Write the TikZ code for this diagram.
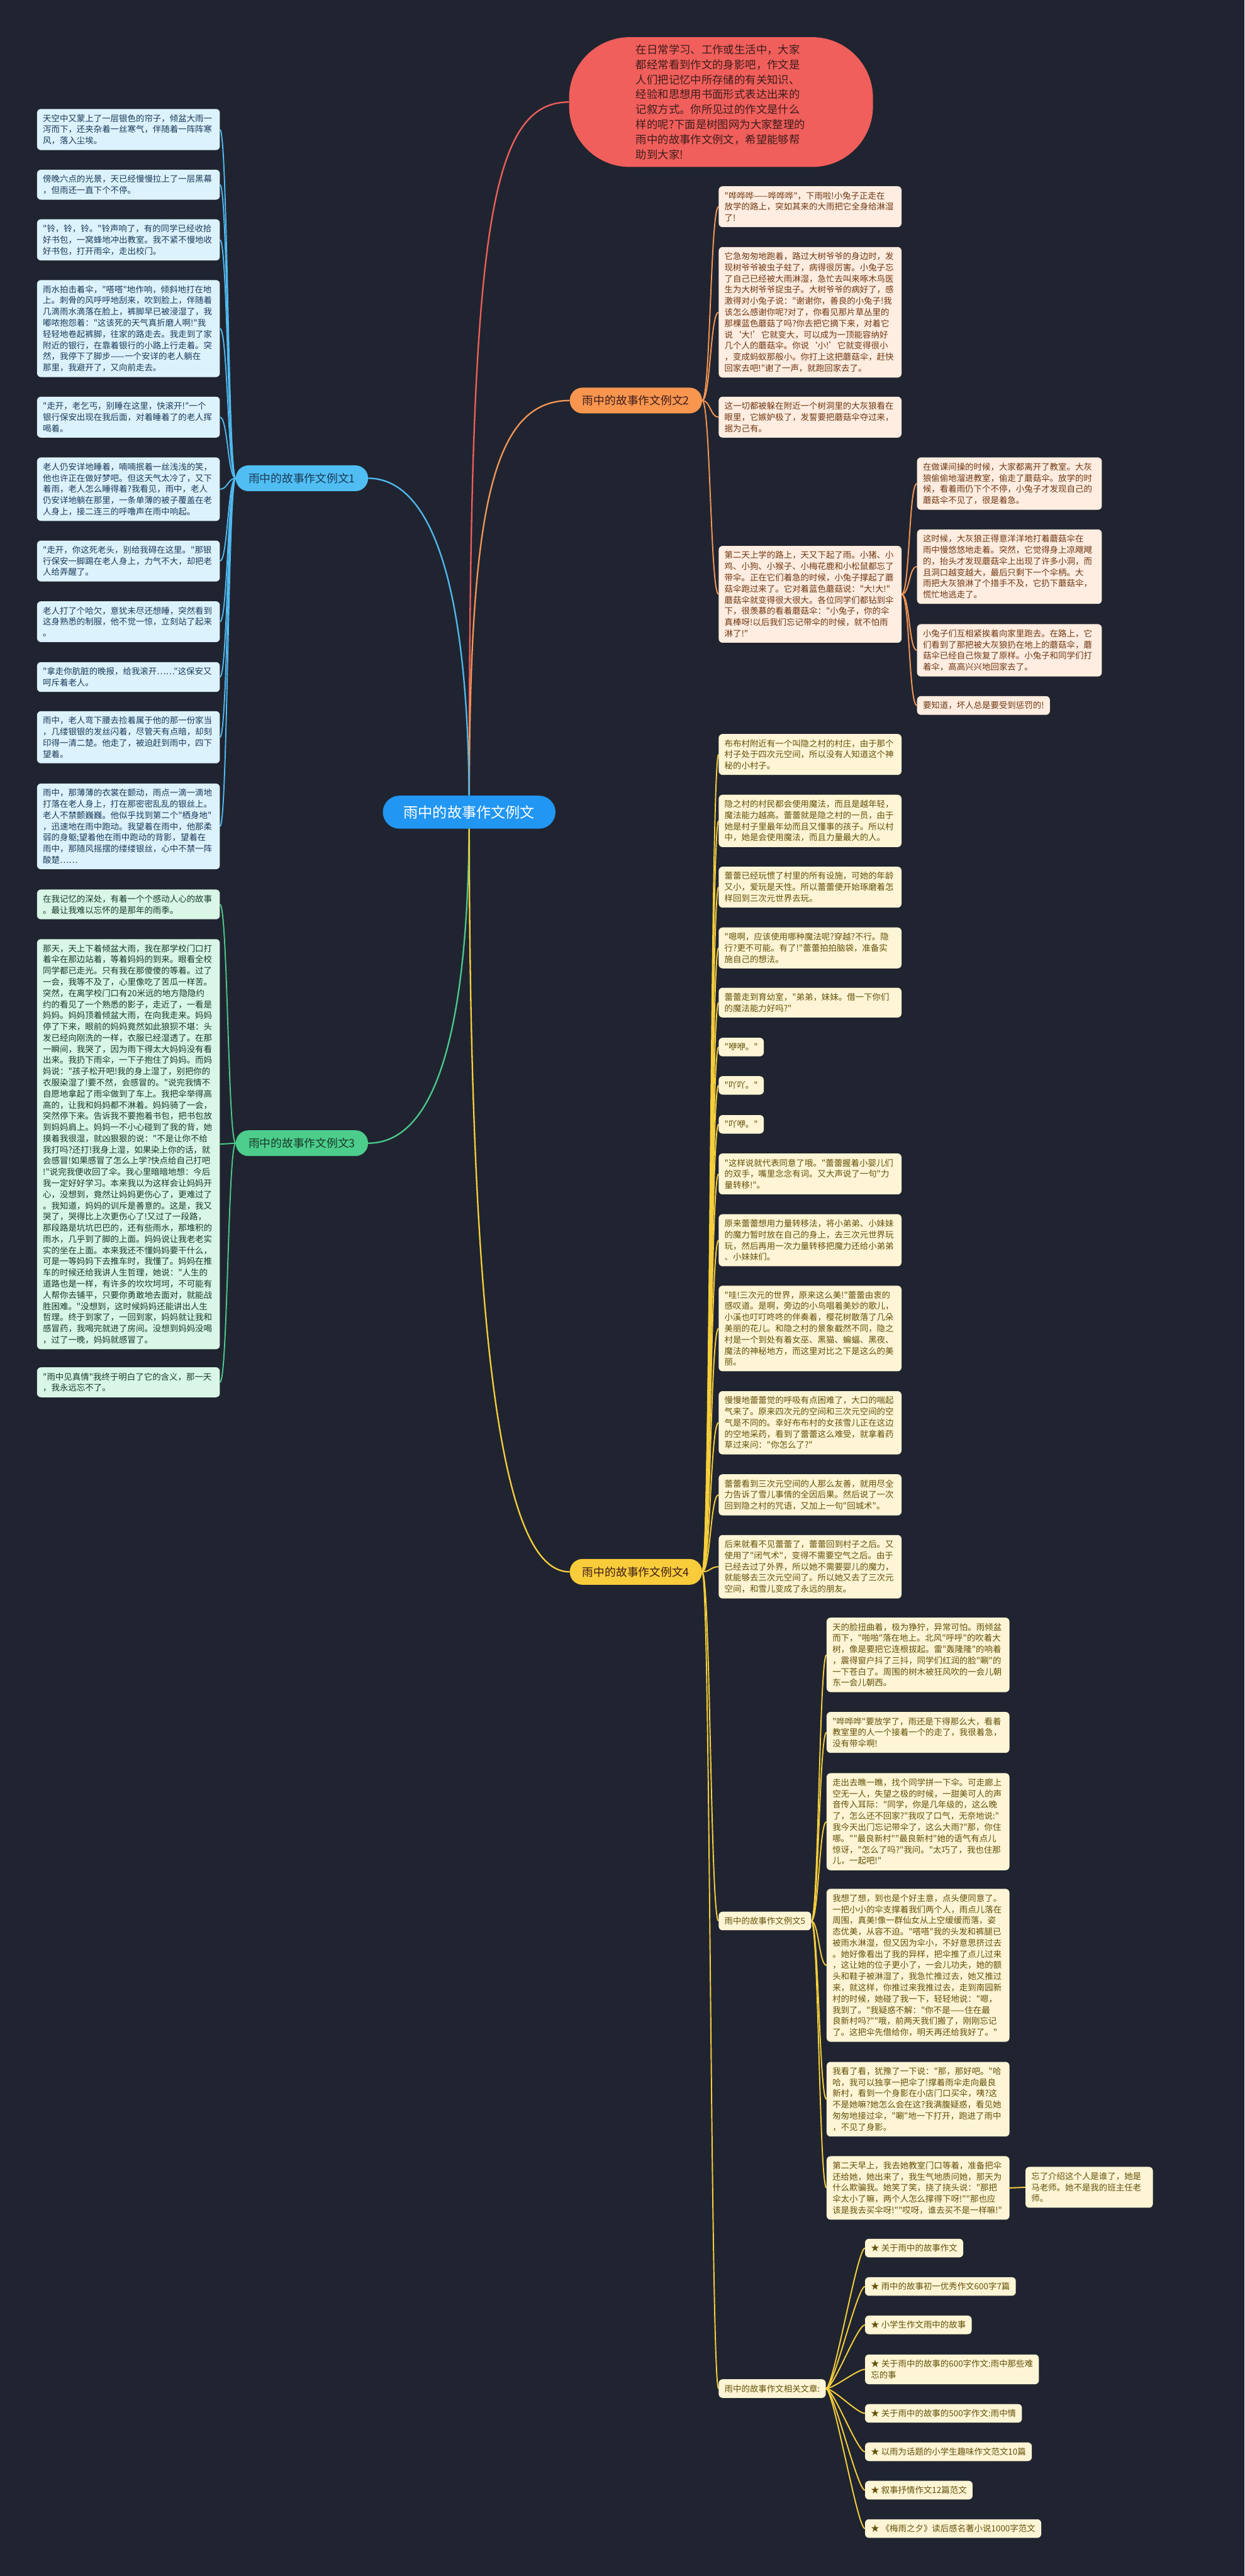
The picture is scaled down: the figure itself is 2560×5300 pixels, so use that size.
\documentclass[tikz,border=0pt]{standalone}
\usepackage{fontspec}
\newfontfamily\cjk{Noto Sans CJK SC}
\definecolor{bgc}{RGB}{32,36,48}
\definecolor{ired}{RGB}{240,95,91}
\definecolor{introtext}{RGB}{62,28,28}
\definecolor{cblue}{RGB}{33,150,243}
\definecolor{pblue}{RGB}{80,190,242}
\definecolor{pgreen}{RGB}{76,205,140}
\definecolor{porange}{RGB}{248,150,79}
\definecolor{pyellow}{RGB}{248,204,58}
\definecolor{lblue}{RGB}{80,185,240}
\definecolor{lgreen}{RGB}{76,200,140}
\definecolor{lorange}{RGB}{245,150,85}
\definecolor{lyellow}{RGB}{246,206,60}
\definecolor{fblue}{RGB}{220,243,253}
\definecolor{tblue}{RGB}{28,58,88}
\definecolor{fgreen}{RGB}{217,246,231}
\definecolor{tgreen}{RGB}{24,58,40}
\definecolor{forange}{RGB}{254,237,224}
\definecolor{torange}{RGB}{110,55,20}
\definecolor{fyellow}{RGB}{253,245,213}
\definecolor{tyellow}{RGB}{100,80,10}
\pgfdeclarelayer{back}
\pgfdeclarelayer{lines}
\pgfsetlayers{back,lines,main}
\tikzset{
  leaf/.style={rounded corners=8pt, inner xsep=12pt, inner ysep=11pt, anchor=north west, align=left, font=\cjk\fontsize{17.4}{23}\selectfont},
  wide/.style={leaf, text width=352pt},
  lb/.style={wide, fill=fblue, text=tblue},
  lg/.style={wide, fill=fgreen, text=tgreen},
  lo/.style={wide, fill=forange, text=torange},
  lsub/.style={leaf, text width=356pt, fill=forange, text=torange},
  lo1/.style={leaf, fill=forange, text=torange},
  ly/.style={wide, fill=fyellow, text=tyellow},
  ly1/.style={leaf, fill=fyellow, text=tyellow},
  pill/.style={rounded corners=26pt, minimum width=272pt, minimum height=53pt, inner sep=0pt, font=\cjk\fontsize{23}{28}\selectfont},
  mainline/.style={line width=3pt},
  conn/.style={line width=2.5pt},
}
\begin{document}
\begin{tikzpicture}[x=1pt,y=-1pt]
\begin{pgfonlayer}{back}
\fill[bgc] (0,0) rectangle (2560,5300);
\end{pgfonlayer}
\useasboundingbox (0,0) rectangle (2560,5300);

% center and main branches
\node[fill=cblue, text=white, rounded corners=34pt, minimum width=355pt, minimum height=68pt, inner sep=0pt, font=\cjk\fontsize{30}{36}\selectfont] (c) at (965,1671) {雨中的故事作文例文};
\node[fill=ired, text=introtext, rounded corners=125pt, minimum width=625pt, minimum height=267pt, text width=350pt, align=left, font=\cjk\fontsize{22.5}{31}\selectfont] (intro) at (1483,210) {在日常学习、工作或生活中，大家\\都经常看到作文的身影吧，作文是\\人们把记忆中所存储的有关知识、\\经验和思想用书面形式表达出来的\\记叙方式。你所见过的作文是什么\\样的呢?下面是树图网为大家整理的\\雨中的故事作文例文，希望能够帮\\助到大家!};
\node[pill, fill=pblue, text=tblue] (p1) at (621,984) {雨中的故事作文例文1};
\node[pill, fill=porange, text=introtext] (p2) at (1308,824) {雨中的故事作文例文2};
\node[pill, fill=pgreen, text=tgreen] (p3) at (621,2352) {雨中的故事作文例文3};
\node[pill, fill=pyellow, text=introtext] (p4) at (1308,3234) {雨中的故事作文例文4};

% branch 1
\node[lb] (b1) at (76,224) {天空中又蒙上了一层银色的帘子，倾盆大雨一\\泻而下，还夹杂着一丝寒气，伴随着一阵阵寒\\风，落入尘埃。};
\node[lb] (b2) at (76,349) {傍晚六点的光景，天已经慢慢拉上了一层黑幕\\，但雨还一直下个不停。};
\node[lb] (b3) at (76,451) {"铃，铃，铃。"铃声响了，有的同学已经收拾\\好书包，一窝蜂地冲出教室。我不紧不慢地收\\好书包，打开雨伞，走出校门。};
\node[lb] (b4) at (76,576) {雨水拍击着伞，"嗒嗒"地作响，倾斜地打在地\\上。刺骨的风呼呼地刮来，吹到脸上，伴随着\\几滴雨水滴落在脸上，裤脚早已被浸湿了，我\\嘟哝抱怨着："这该死的天气真折磨人啊!"我\\轻轻地卷起裤脚，往家的路走去。我走到了家\\附近的银行，在靠着银行的小路上行走着。突\\然，我停下了脚步——一个安详的老人躺在\\那里，我避开了，又向前走去。};
\node[lb] (b5) at (76,816) {"走开，老乞丐，别睡在这里，快滚开!"一个\\银行保安出现在我后面，对着睡着了的老人挥\\喝着。};
\node[lb] (b6) at (76,941) {老人仍安详地睡着，喃喃抿着一丝浅浅的笑，\\他也许正在做好梦吧。但这天气太冷了，又下\\着雨，老人怎么睡得着?我看见，雨中，老人\\仍安详地躺在那里，一条单薄的被子覆盖在老\\人身上，接二连三的呼噜声在雨中响起。};
\node[lb] (b7) at (76,1112) {"走开，你这死老头，别给我碍在这里。"那银\\行保安一脚踢在老人身上，力气不大，却把老\\人给弄醒了。};
\node[lb] (b8) at (76,1237) {老人打了个哈欠，意犹未尽还想睡，突然看到\\这身熟悉的制服，他不觉一惊，立刻站了起来\\。};
\node[lb] (b9) at (76,1362) {"拿走你肮脏的晚报，给我滚开……"这保安又\\呵斥着老人。};
\node[lb] (b10) at (76,1463) {雨中，老人弯下腰去捡着属于他的那一份家当\\，几缕银银的发丝闪着，尽管天有点暗，却刻\\印得一清二楚。他走了，被迫赶到雨中，四下\\望着。};
\node[lb] (b11) at (76,1612) {雨中，那薄薄的衣裳在颤动，雨点一滴一滴地\\打落在老人身上，打在那密密乱乱的银丝上。\\老人不禁颤巍巍。他似乎找到第二个"栖身地"\\，迅速地在雨中跑动。我望着在雨中，他那柔\\弱的身躯;望着他在雨中跑动的背影，望着在\\雨中，那随风摇摆的缕缕银丝，心中不禁一阵\\酸楚……};

% branch 3
\node[lg] (g1) at (76,1830) {在我记忆的深处，有着一个个感动人心的故事\\。最让我难以忘怀的是那年的雨季。};
\node[lg] (g2) at (76,1932) {那天，天上下着倾盆大雨，我在那学校门口打\\着伞在那边站着，等着妈妈的到来。眼看全校\\同学都已走光。只有我在那傻傻的等着。过了\\一会，我等不及了，心里像吃了苦瓜一样苦。\\突然，在离学校门口有20米远的地方隐隐约\\约的看见了一个熟悉的影子，走近了，一看是\\妈妈。妈妈顶着倾盆大雨，在向我走来。妈妈\\停了下来，眼前的妈妈竟然如此狼狈不堪：头\\发已经向刚洗的一样，衣服已经湿透了。在那\\一瞬间，我哭了，因为雨下得太大妈妈没有看\\出来。我扔下雨伞，一下子抱住了妈妈。而妈\\妈说："孩子松开吧!我的身上湿了，别把你的\\衣服染湿了!要不然，会感冒的。"说完我情不\\自愿地拿起了雨伞做到了车上。我把伞举得高\\高的，让我和妈妈都不淋着。妈妈骑了一会，\\突然停下来。告诉我不要抱着书包，把书包放\\到妈妈肩上。妈妈一不小心碰到了我的背，她\\摸着我很湿，就凶狠狠的说："不是让你不给\\我打吗?还打!我身上湿，如果染上你的话，就\\会感冒!如果感冒了怎么上学?快点给自己打吧\\!"说完我便收回了伞。我心里暗暗地想：今后\\我一定好好学习。本来我以为这样会让妈妈开\\心，没想到，竟然让妈妈更伤心了，更难过了\\。我知道，妈妈的训斥是善意的。这是，我又\\哭了，哭得比上次更伤心了!又过了一段路，\\那段路是坑坑巴巴的，还有些雨水，那堆积的\\雨水，几乎到了脚的上面。妈妈说让我老老实\\实的坐在上面。本来我还不懂妈妈要干什么，\\可是一等妈妈下去推车时，我懂了。妈妈在推\\车的时候还给我讲人生哲理，她说："人生的\\道路也是一样，有许多的坎坎坷坷，不可能有\\人帮你去铺平，只要你勇敢地去面对，就能战\\胜困难。"没想到，这时候妈妈还能讲出人生\\哲理。终于到家了，一回到家，妈妈就让我和\\感冒药，我喝完就进了房间。没想到妈妈没喝\\，过了一晚，妈妈就感冒了。};
\node[lg] (g3) at (76,2813) {"雨中见真情"我终于明白了它的含义，那一天\\，我永远忘不了。};

% branch 2
\node[lo] (o1) at (1478,383) {"哗哗哗——哗哗哗"，下雨啦!小兔子正走在\\放学的路上，突如其来的大雨把它全身给淋湿\\了!};
\node[lo] (o2) at (1478,508) {它急匆匆地跑着，路过大树爷爷的身边时，发\\现树爷爷被虫子蛀了，病得很厉害。小兔子忘\\了自己已经被大雨淋湿，急忙去叫来啄木鸟医\\生为大树爷爷捉虫子。大树爷爷的病好了，感\\激得对小兔子说："谢谢你，善良的小兔子!我\\该怎么感谢你呢?对了，你看见那片草丛里的\\那棵蓝色蘑菇了吗?你去把它摘下来，对着它\\说‘大!’它就变大，可以成为一顶能容纳好\\几个人的蘑菇伞。你说‘小!’它就变得很小\\，变成蚂蚁那般小。你打上这把蘑菇伞，赶快\\回家去吧!"谢了一声，就跑回家去了。};
\node[lo] (o3) at (1478,816) {这一切都被躲在附近一个树洞里的大灰狼看在\\眼里，它嫉妒极了，发誓要把蘑菇伞夺过来，\\据为己有。};
\node[lo] (o4) at (1478,1123) {第二天上学的路上，天又下起了雨。小猪、小\\鸡、小狗、小猴子、小梅花鹿和小松鼠都忘了\\带伞。正在它们着急的时候，小兔子撑起了蘑\\菇伞跑过来了。它对着蓝色蘑菇说："大!大!"\\蘑菇伞就变得很大很大。各位同学们都钻到伞\\下，很羡慕的看着蘑菇伞："小兔子，你的伞\\真棒呀!以后我们忘记带伞的时候，就不怕雨\\淋了!"};
\node[lsub] (s1) at (1886,941) {在做课间操的时候，大家都离开了教室。大灰\\狼偷偷地溜进教室，偷走了蘑菇伞。放学的时\\候，看着雨仍下个不停，小兔子才发现自己的\\蘑菇伞不见了，很是着急。};
\node[lsub] (s2) at (1886,1089) {这时候，大灰狼正得意洋洋地打着蘑菇伞在\\雨中慢悠悠地走着。突然，它觉得身上凉飕飕\\的，抬头才发现蘑菇伞上出现了许多小洞，而\\且洞口越变越大，最后只剩下一个伞柄。大\\雨把大灰狼淋了个措手不及，它扔下蘑菇伞，\\慌忙地逃走了。};
\node[lsub] (s3) at (1886,1284) {小兔子们互相紧挨着向家里跑去。在路上，它\\们看到了那把被大灰狼扔在地上的蘑菇伞，蘑\\菇伞已经自己恢复了原样。小兔子和同学们打\\着伞，高高兴兴地回家去了。};
\node[lo1] (s4) at (1886,1432) {要知道，坏人总是要受到惩罚的!};

% branch 4
\node[ly] (y1) at (1478,1510) {布布村附近有一个叫隐之村的村庄，由于那个\\村子处于四次元空间，所以没有人知道这个神\\秘的小村子。};
\node[ly] (y2) at (1478,1635) {隐之村的村民都会使用魔法，而且是越年轻，\\魔法能力越高。蕾蕾就是隐之村的一员，由于\\她是村子里最年幼而且又懂事的孩子。所以村\\中，她是会使用魔法，而且力量最大的人。};
\node[ly] (y3) at (1478,1783) {蕾蕾已经玩惯了村里的所有设施，可她的年龄\\又小，爱玩是天性。所以蕾蕾便开始琢磨着怎\\样回到三次元世界去玩。};
\node[ly] (y4) at (1478,1908) {"嗯啊，应该使用哪种魔法呢?穿越?不行。隐\\行?更不可能。有了!"蕾蕾拍拍脑袋，准备实\\施自己的想法。};
\node[ly] (y5) at (1478,2032) {蕾蕾走到育幼室，"弟弟，妹妹。借一下你们\\的魔法能力好吗?"};
\node[ly1] (y6) at (1478,2135) {"咿咿。"};
\node[ly1] (y7) at (1478,2214) {"吖吖。"};
\node[ly1] (y8) at (1478,2294) {"吖咿。"};
\node[ly] (y9) at (1478,2373) {"这样说就代表同意了哦。"蕾蕾握着小婴儿们\\的双手，嘴里念念有词。又大声说了一句"力\\量转移!"。};
\node[ly] (y10) at (1478,2498) {原来蕾蕾想用力量转移法，将小弟弟、小妹妹\\的魔力暂时放在自己的身上，去三次元世界玩\\玩，然后再用一次力量转移把魔力还给小弟弟\\、小妹妹们。};
\node[ly] (y11) at (1478,2645) {"哇!三次元的世界，原来这么美!"蕾蕾由衷的\\感叹道。是啊，旁边的小鸟唱着美妙的歌儿，\\小溪也叮叮咚咚的伴奏着，樱花树散落了几朵\\美丽的花儿。和隐之村的景象截然不同，隐之\\村是一个到处有着女巫、黑猫、蝙蝠、黑夜、\\魔法的神秘地方，而这里对比之下是这么的美\\丽。};
\node[ly] (y12) at (1478,2862) {慢慢地蕾蕾觉的呼吸有点困难了，大口的喘起\\气来了。原来四次元的空间和三次元空间的空\\气是不同的。幸好布布村的女孩雪儿正在这边\\的空地采药，看到了蕾蕾这么难受，就拿着药\\草过来问："你怎么了?"};
\node[ly] (y13) at (1478,3033) {蕾蕾看到三次元空间的人那么友善，就用尽全\\力告诉了雪儿事情的全因后果。然后说了一次\\回到隐之村的咒语，又加上一句"回城术"。};
\node[ly] (y14) at (1478,3158) {后来就看不见蕾蕾了，蕾蕾回到村子之后。又\\使用了"闭气术"，变得不需要空气之后。由于\\已经去过了外界，所以她不需要婴儿的魔力，\\就能够去三次元空间了。所以她又去了三次元\\空间，和雪儿变成了永远的朋友。};
\node[ly1] (lab5) at (1478,3933) {雨中的故事作文例文5};
\node[ly1] (rel) at (1478,4895) {雨中的故事作文相关文章:};

% branch 5
\node[ly] (f1) at (1700,3328) {天的脸扭曲着，极为狰狞，异常可怕。雨倾盆\\而下，"啪啪"落在地上。北风"呼呼"的吹着大\\树，像是要把它连根拔起。雷"轰隆隆"的响着\\，震得窗户抖了三抖，同学们红润的脸"唰"的\\一下苍白了。周围的树木被狂风吹的一会儿朝\\东一会儿朝西。};
\node[ly] (f2) at (1700,3522) {"哗哗哗"要放学了，雨还是下得那么大，看着\\教室里的人一个接着一个的走了，我很着急，\\没有带伞啊!};
\node[ly] (f3) at (1700,3648) {走出去瞧一瞧，找个同学拼一下伞。可走廊上\\空无一人，失望之极的时候，一甜美可人的声\\音传入耳际："同学，你是几年级的，这么晚\\了，怎么还不回家?"我叹了口气，无奈地说:"\\我今天出门忘记带伞了，这么大雨?"那，你住\\哪。""最良新村""最良新村"她的语气有点儿\\惊讶，"怎么了吗?"我问。"太巧了，我也住那\\儿，一起吧!"};
\node[ly] (f4) at (1700,3886) {我想了想，到也是个好主意，点头便同意了。\\一把小小的伞支撑着我们两个人，雨点儿落在\\周围，真美!像一群仙女从上空缓缓而落，姿\\态优美，从容不迫。"嗒嗒"我的头发和裤腿已\\被雨水淋湿，但又因为伞小，不好意思挤过去\\。她好像看出了我的异样，把伞推了点儿过来\\，这让她的位子更小了，一会儿功夫，她的额\\头和鞋子被淋湿了，我急忙推过去，她又推过\\来，就这样，你推过来我推过去，走到南园新\\村的时候，她碰了我一下，轻轻地说："嗯，\\我到了。"我疑惑不解："你不是——住在最\\良新村吗?""哦，前两天我们搬了，刚刚忘记\\了。这把伞先借给你，明天再还给我好了。"};
\node[ly] (f5) at (1700,4242) {我看了看，犹豫了一下说："那，那好吧。"哈\\哈，我可以独享一把伞了!撑着雨伞走向最良\\新村，看到一个身影在小店门口买伞，咦?这\\不是她嘛?她怎么会在这?我满腹疑惑，看见她\\匆匆地接过伞，"唰"地一下打开，跑进了雨中\\，不见了身影。};
\node[ly] (f6) at (1700,4436) {第二天早上，我去她教室门口等着，准备把伞\\还给她，她出来了，我生气地质问她，那天为\\什么欺骗我。她笑了笑，挠了挠头说："那把\\伞太小了嘛，两个人怎么撑得下呀!""那也应\\该是我去买伞呀!""哎呀，谁去买不是一样嘛!"};
\node[ly1, text width=238pt] (side) at (2109,4458) {忘了介绍这个人是谁了，她是\\马老师。她不是我的班主任老\\师。};

% related
\node[ly1] (r1) at (1779,4606) {★ 关于雨中的故事作文};
\node[ly1] (r2) at (1779,4685) {★ 雨中的故事初一优秀作文600字7篇};
\node[ly1] (r3) at (1779,4764) {★ 小学生作文雨中的故事};
\node[ly1] (r4) at (1779,4844) {★ 关于雨中的故事的600字作文:雨中那些难\\忘的事};
\node[ly1] (r5) at (1779,4946) {★ 关于雨中的故事的500字作文:雨中情};
\node[ly1] (r6) at (1779,5025) {★ 以雨为话题的小学生趣味作文范文10篇};
\node[ly1] (r7) at (1779,5104) {★ 叙事抒情作文12篇范文};
\node[ly1] (r8) at (1779,5183) {★ 《梅雨之夕》读后感名著小说1000字范文};

\begin{pgfonlayer}{lines}
\draw[mainline, ired] (c.center) .. controls (965,500) and (1000,210) .. (intro.west);
\draw[mainline, lorange] (c.center) .. controls (965,1050) and (1010,824) .. (p2.west);
\draw[mainline, lblue] (c.center) .. controls (965,1150) and (870,984) .. (p1.east);
\draw[mainline, lgreen] (c.center) .. controls (965,2200) and (870,2352) .. (p3.east);
\draw[mainline, lyellow] (c.center) .. controls (965,2950) and (1060,3234) .. (p4.west);
\foreach \n in {b1,b2,b3,b4,b5,b6,b7,b8,b9,b10,b11}
  \draw[conn, lblue] (p1.west) .. controls +(-16,0) and +(16,0) .. (\n.east);
\foreach \n in {g1,g2,g3}
  \draw[conn, lgreen] (p3.west) .. controls +(-16,0) and +(16,0) .. (\n.east);
\foreach \n in {o1,o2,o3,o4}
  \draw[conn, lorange] (p2.east) .. controls +(17,0) and +(-17,0) .. (\n.west);
\foreach \n in {s1,s2,s3,s4}
  \draw[conn, lorange] (o4.east) .. controls +(17,0) and +(-17,0) .. (\n.west);
\foreach \n in {y1,y2,y3,y4,y5,y6,y7,y8,y9,y10,y11,y12,y13,y14,lab5,rel}
  \draw[conn, lyellow] (p4.east) .. controls +(17,0) and +(-17,0) .. (\n.west);
\foreach \n in {f1,f2,f3,f4,f5,f6}
  \draw[conn, lyellow] (lab5.east) .. controls +(15,0) and +(-15,0) .. (\n.west);
\foreach \n in {r1,r2,r3,r4,r5,r6,r7,r8}
  \draw[conn, lyellow] (rel.east) .. controls +(16,0) and +(-16,0) .. (\n.west);
\draw[conn, lyellow] (f6.east) -- (side.west);
\end{pgfonlayer}
\end{tikzpicture}
\end{document}
